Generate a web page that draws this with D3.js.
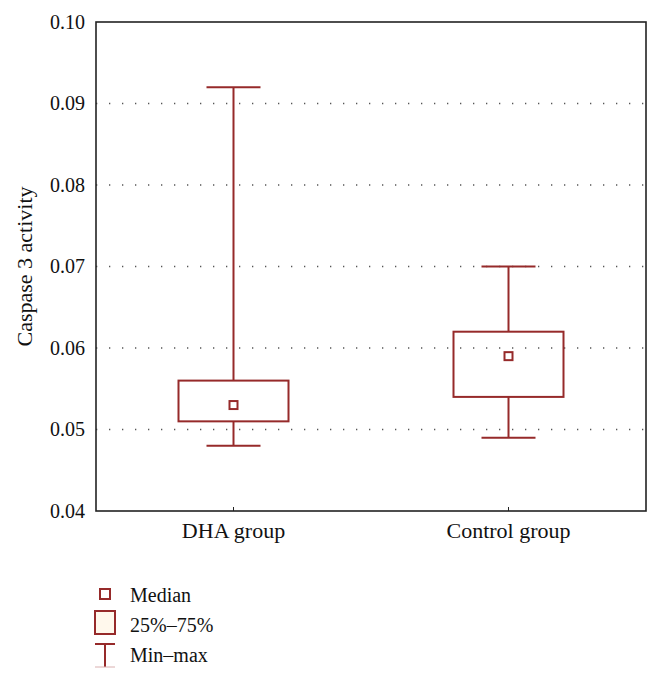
<!DOCTYPE html>
<html>
<head>
<meta charset="utf-8">
<script src="https://cdn.jsdelivr.net/npm/d3@7"></script>
<style>
  body { margin: 0; background: #fff; }
  svg text { font-family: "Liberation Serif", "DejaVu Serif", serif; fill: #111; }
</style>
</head>
<body>
<div id="chart"></div>
<script>
// data
const groups = ["DHA group", "Control group"]
const minVals = [0.048, 0.049]
const q1Vals = [0.051, 0.054]
const medianVals = [0.053, 0.059]
const q3Vals = [0.056, 0.062]
const maxVals = [0.092, 0.070]
const yTicks = [0.04, 0.05, 0.06, 0.07, 0.08, 0.09, 0.10]
const legendLabels = ["Median", "25%\u201375%", "Min\u2013max"]

const width = 661, height = 682
const margin = {top: 22, right: 15, bottom: 171, left: 96}
const red = "#962a2a"

const svg = d3.select("#chart").append("svg")
    .attr("width", width)
    .attr("height", height)

const x = d3.scaleBand()
    .domain(groups)
    .range([margin.left, width - margin.right])

const y = d3.scaleLinear()
    .domain([0.04, 0.10])
    .range([height - margin.bottom, margin.top])

// dotted grid lines
svg.append("g")
    .selectAll("line")
    .data(yTicks.filter(d => d > 0.04 && d < 0.10))
    .join("line")
    .attr("x1", margin.left)
    .attr("x2", width - margin.right)
    .attr("y1", d => y(d))
    .attr("y2", d => y(d))
    .attr("stroke", "#555")
    .attr("stroke-width", 1.3)
    .attr("stroke-dasharray", "1.3 11.7")

// y axis labels
const yAxis = d3.axisLeft(y)
    .tickValues(yTicks)
    .tickFormat(d3.format(".2f"))
    .tickSize(0)
    .tickPadding(11)

svg.append("g")
    .attr("transform", `translate(${margin.left},0)`)
    .call(yAxis)
    .call(g => g.select(".domain").remove())
    .selectAll("text")
    .style("font-size", "20px")
    .style("font-family", "\"Liberation Serif\", serif")
    .attr("fill", "#111")

// x axis
const xAxis = d3.axisBottom(x).tickSize(-4).tickPadding(11)
svg.append("g")
    .attr("transform", `translate(0,${height - margin.bottom})`)
    .call(xAxis)
    .call(g => g.select(".domain").remove())
    .call(g => g.selectAll("line").attr("stroke", "#222"))
    .selectAll("text")
    .style("font-size", "22px")
    .style("font-family", "\"Liberation Serif\", serif")
    .attr("fill", "#111")

// frame
svg.append("rect")
    .attr("x", margin.left)
    .attr("y", margin.top)
    .attr("width", width - margin.right - margin.left)
    .attr("height", height - margin.bottom - margin.top)
    .attr("fill", "none")
    .attr("stroke", "#222")
    .attr("stroke-width", 1.6)

// y label
svg.append("text")
    .attr("transform", `translate(32,${(margin.top + height - margin.bottom) / 2}) rotate(-90)`)
    .attr("text-anchor", "middle")
    .style("font-size", "22px")
    .text("Caspase 3 activity")

// boxes
const boxW = 110, capW = 54, medS = 8
const boxes = svg.append("g")
    .selectAll("g")
    .data(groups)
    .join("g")
    .attr("transform", d => `translate(${x(d) + x.bandwidth() / 2},0)`)

boxes.append("line")
    .attr("x1", 0).attr("x2", 0)
    .attr("y1", (d, i) => y(maxVals[i]))
    .attr("y2", (d, i) => y(q3Vals[i]))
    .attr("stroke", red).attr("stroke-width", 2)

boxes.append("line")
    .attr("x1", 0).attr("x2", 0)
    .attr("y1", (d, i) => y(q1Vals[i]))
    .attr("y2", (d, i) => y(minVals[i]))
    .attr("stroke", red).attr("stroke-width", 2)

boxes.append("line")
    .attr("x1", -capW / 2).attr("x2", capW / 2)
    .attr("y1", (d, i) => y(maxVals[i]))
    .attr("y2", (d, i) => y(maxVals[i]))
    .attr("stroke", red).attr("stroke-width", 2)

boxes.append("line")
    .attr("x1", -capW / 2).attr("x2", capW / 2)
    .attr("y1", (d, i) => y(minVals[i]))
    .attr("y2", (d, i) => y(minVals[i]))
    .attr("stroke", red).attr("stroke-width", 2)

boxes.append("rect")
    .attr("x", -boxW / 2)
    .attr("y", (d, i) => y(q3Vals[i]))
    .attr("width", boxW)
    .attr("height", (d, i) => y(q1Vals[i]) - y(q3Vals[i]))
    .attr("fill", "none")
    .attr("stroke", red).attr("stroke-width", 2)

boxes.append("rect")
    .attr("x", -medS / 2)
    .attr("y", (d, i) => y(medianVals[i]) - medS / 2)
    .attr("width", medS)
    .attr("height", medS)
    .attr("fill", "none")
    .attr("stroke", red).attr("stroke-width", 2)

// legend
const legend = svg.append("g")
const lx = 105, textX = 130

legend.append("rect")
    .attr("x", lx - 5).attr("y", 589)
    .attr("width", 10).attr("height", 10)
    .attr("fill", "none").attr("stroke", red).attr("stroke-width", 2)

legend.append("rect")
    .attr("x", lx - 10).attr("y", 611)
    .attr("width", 20).attr("height", 23)
    .attr("fill", "#fff8ec").attr("stroke", red).attr("stroke-width", 2)

legend.append("line")
    .attr("x1", lx - 10).attr("x2", lx + 10)
    .attr("y1", 644).attr("y2", 644)
    .attr("stroke", red).attr("stroke-width", 2)
legend.append("line")
    .attr("x1", lx).attr("x2", lx)
    .attr("y1", 644).attr("y2", 667)
    .attr("stroke", red).attr("stroke-width", 2)
legend.append("line")
    .attr("x1", lx - 10).attr("x2", lx + 10)
    .attr("y1", 667).attr("y2", 667)
    .attr("stroke", "#d9b0b0").attr("stroke-width", 1)

legend.selectAll("text")
    .data(legendLabels)
    .join("text")
    .attr("x", textX)
    .attr("y", (d, i) => 602 + i * 30)
    .style("font-size", "20px")
    .text(d => d)
</script>
</body>
</html>
